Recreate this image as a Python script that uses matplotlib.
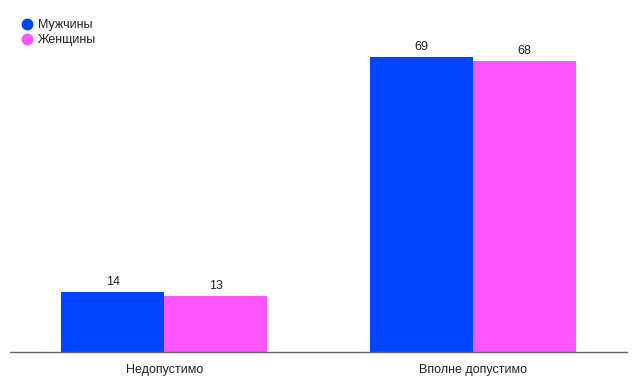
import matplotlib
matplotlib.use("Agg")
import matplotlib.pyplot as plt
from matplotlib.lines import Line2D
import numpy as np

categories = ["Недопустимо", "Вполне допустимо"]
series_names = ["Мужчины", "Женщины"]
men = [14, 69]
women = [13, 68]
colors = ["#0044FF", "#FF55FF"]

plt.rcParams['font.family'] = ['Liberation Sans', 'DejaVu Sans']

W, H = 637, 384
fig = plt.figure(figsize=(W/100, H/100), dpi=100)
ax = fig.add_axes([10/W, (H-352)/H, 617/W, 342/H])

x = np.arange(len(categories))
bw = 0.334
for i, (vals, col) in enumerate(zip([men, women], colors)):
    pos = x + (i - 0.5) * bw
    bars = ax.bar(pos, vals, width=bw, color=col, linewidth=0, zorder=2)
    for b, v in zip(bars, vals):
        ax.annotate(str(v), (b.get_x() + b.get_width()/2, v), xytext=(0, 3),
                    textcoords='offset points', ha='center', va='bottom',
                    fontsize=9, color='#222222')

ax.set_xlim(-0.5, 1.5)
ax.set_ylim(0, 80)
ax.set_xticks(x)
ax.set_xticklabels(categories, fontsize=9, color='#222222')
ax.tick_params(axis='x', length=0, pad=8.5)
ax.set_yticks([])
for s in ['top', 'right', 'left']:
    ax.spines[s].set_visible(False)
ax.spines['bottom'].set_color('#666666')
ax.spines['bottom'].set_linewidth(1)

handles = [Line2D([], [], marker='o', linestyle='none', markersize=7.5,
                  markerfacecolor=c, markeredgecolor=c) for c in colors]
fig.legend(handles, series_names, loc='upper left', bbox_to_anchor=(22/W, 1 - 19/H),
           frameon=False, fontsize=9, handlelength=0.8, handletextpad=0.5,
           labelspacing=0.25, borderpad=0, borderaxespad=0, labelcolor='#222222')

fig.savefig("out.png", dpi=100)
